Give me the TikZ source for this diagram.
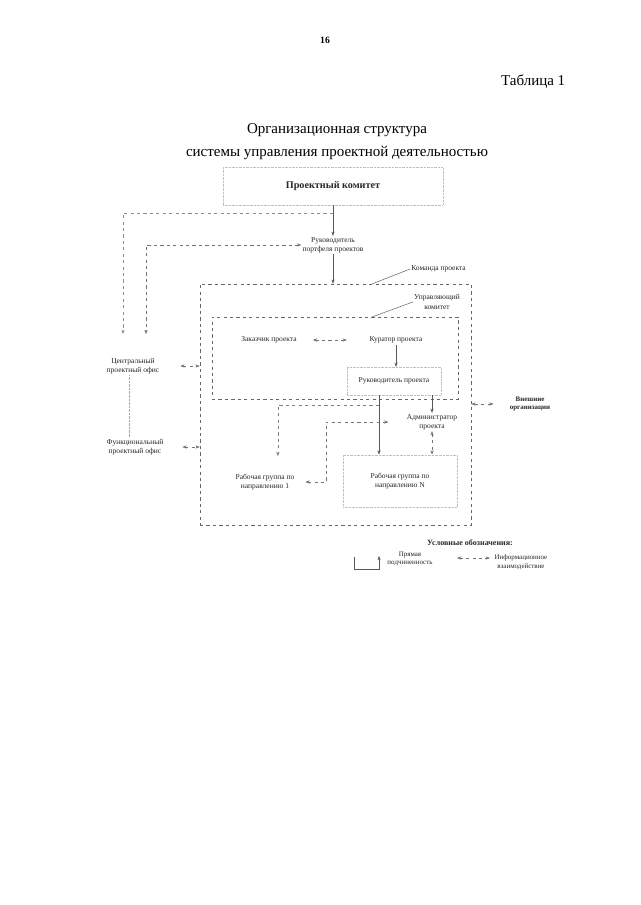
\documentclass[tikz,border=0pt]{standalone}
\usepackage{fontspec}
\setmainfont{Liberation Serif}
\usetikzlibrary{arrows.meta,fit}

\begin{document}
\begin{tikzpicture}[x=0.0328125cm,y=-0.0328125cm,
  box/.style={align=center,inner sep=1pt,text=black!85,font=\fontsize{7}{8.5}\selectfont},
  ghost/.style={box,draw=black!25,densely dotted,line width=0.3pt},
  frame/.style={draw=black!60,dashed,line width=0.5pt,inner sep=0pt},
  direct/.style={draw=black!65,line width=0.4pt,-{Stealth[length=4pt,width=3pt]}},
  info/.style={draw=black!55,dashed,line width=0.4pt,{Stealth[length=4pt,width=3pt]}-{Stealth[length=4pt,width=3pt]}},
  faint/.style={draw=black!35,densely dotted,line width=0.3pt}]
\useasboundingbox (0,0) rectangle (640,905);

\node (page) at (325,40) {\fontsize{9}{10}\selectfont\bfseries 16};
\node[anchor=east] (tab) at (569,82) {\fontsize{14}{16}\selectfont Таблица 1};
\node (title1) at (337,130) {\fontsize{14}{16}\selectfont Организационная структура};
\node (title2) at (337,153) {\fontsize{14}{16}\selectfont системы управления проектной деятельностью};

\node[ghost,font=\fontsize{9.5}{11}\selectfont\bfseries,minimum width=205pt,minimum height=35pt] (pk) at (333,186) {Проектный комитет};
\node[box] (rpp) at (333,245) {Руководитель\\портфеля проектов};

\node[frame,fit={(200,284) (471,525)}] (team) {};
\node[frame,fit={(212,317) (458,399)}] (uk) {};
\node[box,anchor=west] (teamlbl) at (410,269) {Команда проекта};
\node[box] (uklbl) at (437,302) {Управляющий\\комитет};

\node[box] (zak) at (269,340) {Заказчик проекта};
\node[box] (kur) at (396,340) {Куратор проекта};
\node[ghost,minimum width=88pt,minimum height=26pt] (rp) at (394,381) {Руководитель проекта};
\node[box] (adm) at (432,422) {Администратор\\проекта};
\node[box,font=\fontsize{6.5}{8}\selectfont\bfseries] (ext) at (530,404) {Внешние\\организации};

\node[box,minimum width=88pt] (cpo) at (133,366) {Центральный\\проектный офис};
\node[box,minimum width=88pt] (fpo) at (135,447) {Функциональный\\проектный офис};

\node[box,minimum width=75pt,minimum height=48pt] (rg1) at (265,482) {Рабочая группа по\\направлению 1};
\node[ghost,minimum width=106pt,minimum height=49pt] (rgn) at (400,481) {Рабочая группа по\\направлению N};

\coordinate (tl1) at (372,284);
\coordinate (tl2) at (372,317);
\coordinate (j1) at (333,213);
\coordinate (cpoA) at (123,334);
\coordinate (cpoB) at (146,334);
\coordinate (k1) at (326,422);
\coordinate (j2) at (379,405);

\draw[black!70,line width=0.4pt] (tl1) -- (teamlbl.west);
\draw[black!70,line width=0.4pt] (tl2) -- (uklbl.west);

\draw[direct] (pk.south) -- (rpp.north);
\draw[direct,dashed,draw=black!45] (j1) -| (cpoA);
\draw[info] (rpp.west) -| (cpoB);
\draw[direct] (rpp.south) -- (rpp.south |- team.north);
\draw[info,shorten <=14pt,shorten >=20pt] (zak.east) -- (kur.west);
\draw[direct] (kur.south) -- (kur.south |- rp.north);
\draw[direct] (rp.south -| adm.north) -- (adm.north);
\draw[direct] ([xshift=-14pt]rp.south) -- ([xshift=-14pt]rp.south |- rgn.north);
\draw[direct,dashed,draw=black!50] (j2) -| ([xshift=12pt]rg1.north);
\draw[info,shorten >=16pt] (rg1.east) -| (k1) -- (adm.west);
\draw[info] (adm.south) -- (adm.south |- rgn.north);
\draw[info] (cpo.east) -- (cpo.east -| team.west);
\draw[info] (fpo.east) -- (fpo.east -| team.west);
\draw[info,shorten <=14pt] (ext.west) -- (ext.west -| team.east);
\draw[faint] ([xshift=-4pt]cpo.south) -- ([xshift=-4pt]cpo.south |- fpo.north);

\node[box,font=\fontsize{7.5}{9}\selectfont\bfseries] (legtitle) at (470,543) {Условные обозначения:};
\node[box,font=\fontsize{6.5}{8}\selectfont] (legdirect) at (410,559) {Прямая\\подчиненность};
\node[box,font=\fontsize{6.5}{8}\selectfont] (leginfo) at (521,562) {Информационное\\взаимодействие};
\coordinate (la) at (354,557);
\coordinate (lb) at (354,569);
\coordinate (lc) at (379,569);
\coordinate (ld) at (379,556);
\coordinate (le) at (457,558);
\coordinate (lf) at (490,558);
\draw[direct] (la) -- (lb) -- (lc) -- (ld);
\draw[info] (le) -- (lf);
\end{tikzpicture}
\end{document}
